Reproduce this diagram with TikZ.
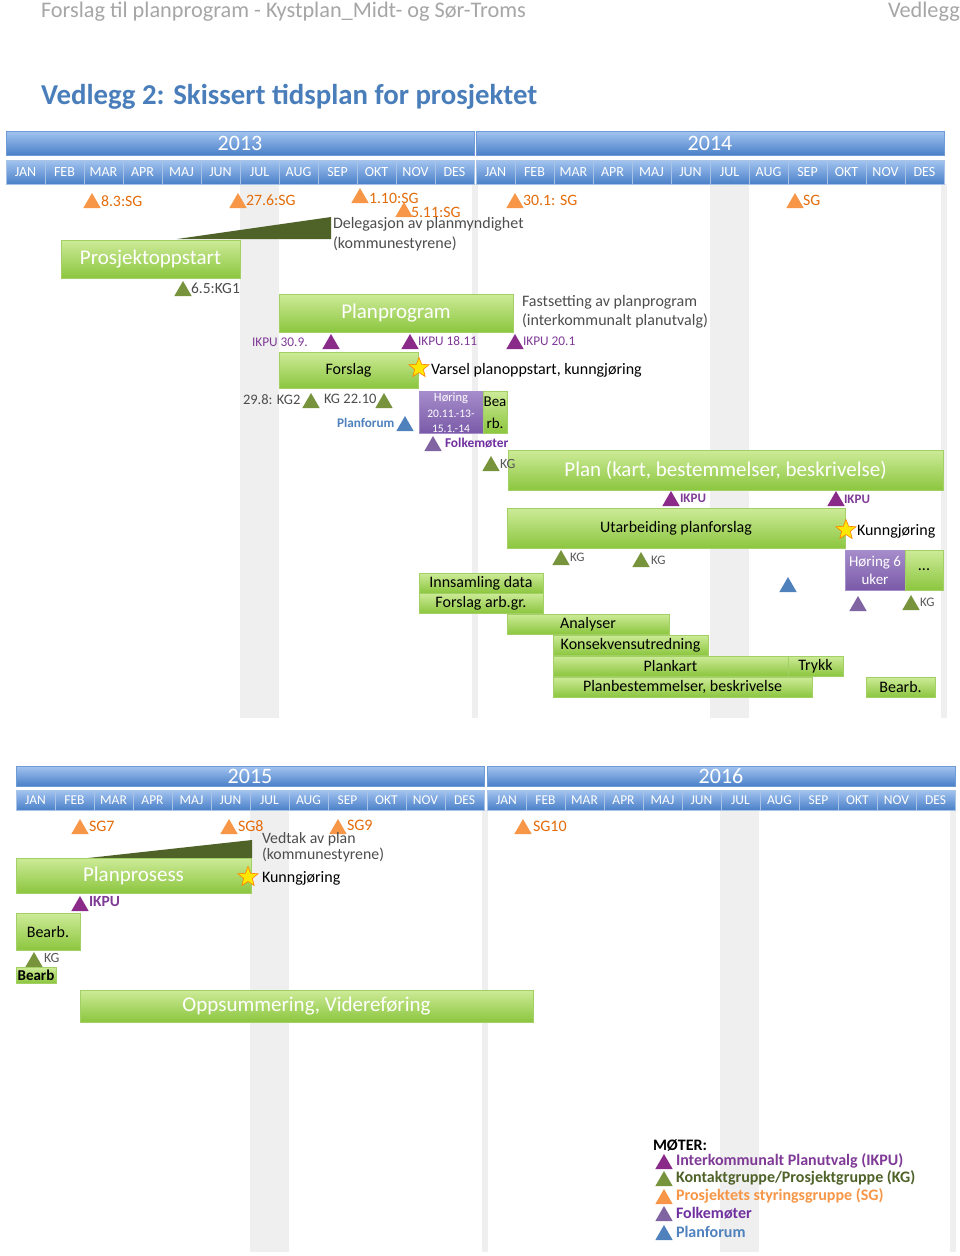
\documentclass[tikz,border=0pt]{standalone}
\usepackage{fontspec}
\setmainfont{Carlito}
\usetikzlibrary{shapes.geometric}
\definecolor{hdrgray}{HTML}{A6A6A6}
\definecolor{titleblue}{HTML}{4A7EBB}
\definecolor{barTop}{HTML}{A3C4F0}
\definecolor{barBot}{HTML}{4A80C8}
\definecolor{barLine}{HTML}{6E9BD6}
\definecolor{stripe}{HTML}{EFEFEF}
\definecolor{gTop}{HTML}{CDEB98}
\definecolor{gBot}{HTML}{8CC63F}
\definecolor{gDraw}{HTML}{A2D064}
\definecolor{pTop}{HTML}{A68DCB}
\definecolor{pBot}{HTML}{7A5AA8}
\definecolor{sgO}{HTML}{F79646}
\definecolor{sgT}{HTML}{E46C0A}
\definecolor{kgG}{HTML}{77933C}
\definecolor{kgT}{HTML}{4F6228}
\definecolor{ikpu}{HTML}{8A2B8A}
\definecolor{ikpuT}{HTML}{7F3A96}
\definecolor{folk}{HTML}{8064A2}
\definecolor{folkT}{HTML}{7030A0}
\definecolor{pfB}{HTML}{4F81BD}
\definecolor{wedgeG}{HTML}{4F6228}
\definecolor{darkT}{HTML}{4D4D4D}
\definecolor{grayT}{HTML}{595959}
\newcommand\fsz[1]{\fontsize{#1}{#1}\selectfont}
\newcommand\gantbox[7][gbox]{\node[#1, minimum width={#5-#3}, minimum height={#6-#4}] (#2) at ({(#3+#5)/2},{(#4+#6)/2}) {#7};}
\newcommand\mtri[4]{\node[tri, fill=#2] (#1) at (#3,#4) {};}
\begin{document}
\begin{tikzpicture}[x=1pt,y=-1pt,
  every node/.style={inner sep=0pt, outer sep=0pt},
  gbox/.style={draw=gDraw, line width=0.8pt, top color=gTop, bottom color=gBot, align=center, font=\fsz{16}},
  pbox/.style={draw=pTop, line width=0.8pt, top color=pTop, bottom color=pBot, align=center, text=white},
  wbox/.style={gbox, text=white, font=\fsz{21}},
  ybar/.style={draw=barLine, line width=0.8pt, top color=barTop, bottom color=barBot, text=white, font=\fsz{22}},
  mcell/.style={draw=barLine!60!white, line width=0.6pt, top color=barTop, bottom color=barBot, text=white, minimum width=39pt},
  tri/.style={regular polygon, regular polygon sides=3, minimum size=20pt},
  lbl/.style={anchor=west, font=\fsz{16}},
  sgl/.style={lbl, text=sgT, font=\fsz{15.8}},
  ikl/.style={lbl, text=ikpuT, font=\fsz{13.3}},
  kgl/.style={lbl, text=grayT, font=\fsz{13}},
  star5/.style={star, star points=5, star point ratio=2.3, minimum size=21pt, fill=yellow!90!orange, draw=orange, line width=0.6pt}]
\useasboundingbox[fill=white] (0,0) rectangle (960,1256);

% header
\node[anchor=west, text=hdrgray, font=\fsz{22.3}] (hdr) at (41,12) {Forslag til planprogram - Kystplan\_Midt- og Sør-Troms};
\node[anchor=west, text=hdrgray, font=\fsz{22.3}] (hdr2) at (888,12) {Vedlegg};
\node[anchor=west, text=titleblue, font=\fsz{28.8}\bfseries] (title) at (41,97) {Vedlegg 2: Skissert tidsplan for prosjektet};

% ---------- section 1 -----------
\fill[stripe] (240,184) rectangle (279,718);
\fill[stripe] (472,184) rectangle (478,718);
\fill[stripe] (710,184) rectangle (749,718);
\fill[stripe] (941,184) rectangle (947,718);

\gantbox[ybar]{y13}{6}{131}{474}{155}{2013}
\gantbox[ybar]{y14}{476}{131}{944}{155}{2014}
\foreach \m [count=\i from 0] in {JAN,FEB,MAR,APR,MAJ,JUN,JUL,AUG,SEP,OKT,NOV,DES} {
  \node[mcell, minimum height=24pt, font=\fsz{14}] (ma\i) at ({25.5+39*\i},172) {\m};
  \node[mcell, minimum height=24pt, font=\fsz{14}] (mb\i) at ({495.5+39*\i},172) {\m};
}

% SG row
\mtri{sg1}{sgO}{92}{203}   \node[sgl] (sg1l) at (101,201) {8.3:SG};
\mtri{sg2}{sgO}{238}{203}  \node[sgl] (sg2l) at (246,200) {27.6:SG};
\mtri{sg3}{sgO}{360}{198}  \node[sgl] (sg3l) at (369,198) {1.10:SG};
\mtri{sg4}{sgO}{404}{212}  \node[sgl] (sg4l) at (411,212) {5.11:SG};
\mtri{sg5}{sgO}{515}{203}  \node[sgl] (sg5l) at (523,200) {30.1: SG};
\mtri{sg6}{sgO}{795}{203}  \node[sgl] (sg6l) at (803,200) {SG};

% wedge + Prosjektoppstart
\fill[wedgeG] (177,239) -- (331,217) -- (331,239) -- cycle;
\node[anchor=north west, align=left, text=darkT, font=\fsz{16}] (deleg) at (333,217)
  {Delegasjon av planmyndighet\\[4pt](kommunestyrene)};
\gantbox[wbox]{prosj}{61}{240}{240}{278}{Prosjektoppstart}
\mtri{kg1}{kgG}{183}{291} \node[kgl, text=darkT, font=\fsz{15.5}] (kg1l) at (191,288) {6.5:KG1};

% Planprogram
\gantbox[wbox]{planprog}{279}{294}{513}{332}{Planprogram}
\node[anchor=north west, align=left, text=darkT, font=\fsz{16}] (fast) at (522,295)
  {Fastsetting av planprogram\\[3pt](interkommunalt planutvalg)};
\node[ikl] (ik1l) at (252,342) {IKPU 30.9.};
\mtri{ik1}{ikpu}{331}{344}
\mtri{ik2}{ikpu}{410}{344} \node[ikl] (ik2l) at (418,341) {IKPU 18.11};
\mtri{ik3}{ikpu}{515}{344} \node[ikl] (ik3l) at (523,341) {IKPU 20.1};

% Forslag
\gantbox{forslag}{279}{352}{418}{388}{Forslag}
\node[star5] (star1) at (419,368) {};
\node[lbl] (varsel) at (431,370) {Varsel planoppstart, kunngjøring};
\node[kgl, text=darkT, font=\fsz{14.5}] (kg2l) at (243,400) {29.8: KG2};
\mtri{kg2}{kgG}{311}{403}
\node[kgl, text=darkT, font=\fsz{14.5}] (kg3l) at (324,399) {KG 22.10};
\mtri{kg3}{kgG}{384}{403}
\node[lbl, text=pfB, font=\fsz{13.2}\bfseries] (pfl) at (337,423) {Planforum};
\mtri{pf1}{pfB}{405}{426}

% Høring / Bearb
\gantbox[pbox]{hor1}{419}{391}{483}{433}{}
\node[text=white, font=\fsz{12.5}] (hor1a) at (451,398) {Høring};
\node[text=white, font=\fsz{11.5}] (hor1b) at (451,414) {20.11.-13-};
\node[text=white, font=\fsz{11.5}] (hor1c) at (451,429) {15.1.-14};
\gantbox{bearb1}{483}{391}{507}{433}{}
\node[font=\fsz{15}] (bearb1a) at (495,402) {Bea};
\node[font=\fsz{15}] (bearb1b) at (495,423) {rb.};
\mtri{folk1}{folk}{433}{446} \node[lbl, text=folkT, font=\fsz{13.4}\bfseries] (folk1l) at (445,443) {Folkemøter};

% Plan
\gantbox[wbox]{plan}{508}{450}{943}{490}{Plan (kart, bestemmelser, beskrivelse)}
\mtri{kg4}{kgG}{491}{466} \node[kgl, font=\fsz{14}] (kg4l) at (500,464) {KG};
\mtri{ik4}{ikpu}{671}{501} \node[ikl, font=\fsz{13}\bfseries] (ik4l) at (680,498) {IKPU};
\mtri{ik5}{ikpu}{836}{501} \node[ikl, font=\fsz{13}\bfseries] (ik5l) at (844,499) {IKPU};

\gantbox{utarb}{507}{508}{845}{548}{Utarbeiding planforslag}
\node[star5] (star2) at (846,530) {};
\node[lbl] (kunn1) at (857,531) {Kunngjøring};

\mtri{kg5}{kgG}{561}{560} \node[kgl] (kg5l) at (570,557) {KG};
\mtri{kg6}{kgG}{641}{562} \node[kgl] (kg6l) at (651,560) {KG};

\gantbox[pbox, font=\fsz{15}]{hor2}{845}{550}{905}{590}{Høring 6\\[3pt]uker}
\gantbox{dots}{905}{550}{943}{590}{...}
\mtri{pf2}{pfB}{788}{587}
\mtri{folk2}{folk}{858}{606}
\mtri{kg7}{kgG}{911}{605} \node[kgl] (kg7l) at (920,602) {KG};

% sub tasks
\gantbox{inns}{419}{573}{543}{593}{Innsamling data}
\gantbox{arbgr}{419}{593}{543}{613}{Forslag arb.gr.}
\gantbox{analyser}{507}{614}{669}{634}{Analyser}
\gantbox{konsek}{553}{635}{708}{655}{Konsekvensutredning}
\gantbox{plankart}{553}{656}{788}{676}{Plankart}
\gantbox{trykk}{788}{656}{843}{676}{Trykk}
\gantbox{planbest}{553}{677}{812}{697}{Planbestemmelser, beskrivelse}
\gantbox{bearb2}{866}{677}{935}{697}{Bearb.}

% ---------- section 2 -----------
\fill[stripe] (250,810) rectangle (289,1252);
\fill[stripe] (482,810) rectangle (488,1252);
\fill[stripe] (720,810) rectangle (759,1252);
\fill[stripe] (950,810) rectangle (956,1252);

\gantbox[ybar]{y15}{16}{766}{484}{786}{2015}
\gantbox[ybar]{y16}{487}{766}{955}{786}{2016}
\foreach \m [count=\i from 0] in {JAN,FEB,MAR,APR,MAJ,JUN,JUL,AUG,SEP,OKT,NOV,DES} {
  \node[mcell, minimum height=20pt, font=\fsz{13.5}] (mc\i) at ({35.5+39*\i},800) {\m};
  \node[mcell, minimum height=20pt, font=\fsz{13.5}] (md\i) at ({506.5+39*\i},800) {\m};
}

\mtri{sg7}{sgO}{80}{829}   \node[sgl, font=\fsz{16}] (sg7l) at (89,826) {SG7};
\mtri{sg8}{sgO}{229}{829}  \node[sgl, font=\fsz{16}] (sg8l) at (238,826) {SG8};
\mtri{sg9}{sgO}{338}{829}  \node[sgl, font=\fsz{16}] (sg9l) at (347,825) {SG9};
\mtri{sg10}{sgO}{523}{829} \node[sgl, font=\fsz{16}] (sg10l) at (533,826) {SG10};

\fill[wedgeG] (88,858) -- (252,840) -- (252,858) -- cycle;
\node[anchor=north west, align=left, text=darkT, font=\fsz{15.8}] (vedtak) at (262,833)
  {Vedtak av plan\\(kommunestyrene)};
\gantbox[wbox]{planpros}{16}{858}{251}{893}{Planprosess}
\node[star5] (star3) at (248,877) {};
\node[lbl] (kunn2) at (262,878) {Kunngjøring};
\mtri{ik6}{ikpu}{80}{906} \node[ikl, font=\fsz{15.5}\bfseries] (ik6l) at (89,902) {IKPU};
\gantbox{bearb3}{16}{913}{80}{950}{Bearb.}
\mtri{kg8}{kgG}{34}{962} \node[kgl, font=\fsz{14}] (kg8l) at (44,958) {KG};
\gantbox[gbox, font=\fsz{15}\bfseries]{bearb4}{16}{967}{56}{983}{Bearb}
\gantbox[wbox]{oppsum}{80}{990}{533}{1022}{Oppsummering, Videreføring}

% legend
\node[lbl, font=\fsz{16}\bfseries] (moter) at (653,1145) {MØTER:};
\mtri{lg1}{ikpu}{664}{1164} \node[lbl, text=ikpuT, font=\fsz{16}\bfseries] (lg1l) at (676,1161) {Interkommunalt Planutvalg (IKPU)};
\mtri{lg2}{kgG}{664}{1181}  \node[lbl, text=kgT, font=\fsz{16}\bfseries] (lg2l) at (676,1178) {Kontaktgruppe/Prosjektgruppe (KG)};
\mtri{lg3}{sgO}{664}{1199}  \node[lbl, text=sgO, font=\fsz{16}\bfseries] (lg3l) at (676,1196) {Prosjektets styringsgruppe (SG)};
\mtri{lg4}{folk}{664}{1216} \node[lbl, text=folkT, font=\fsz{16}\bfseries] (lg4l) at (676,1213) {Folkemøter};
\mtri{lg5}{pfB}{664}{1235}  \node[lbl, text=pfB, font=\fsz{16}\bfseries] (lg5l) at (676,1232) {Planforum};
\end{tikzpicture}
\end{document}
